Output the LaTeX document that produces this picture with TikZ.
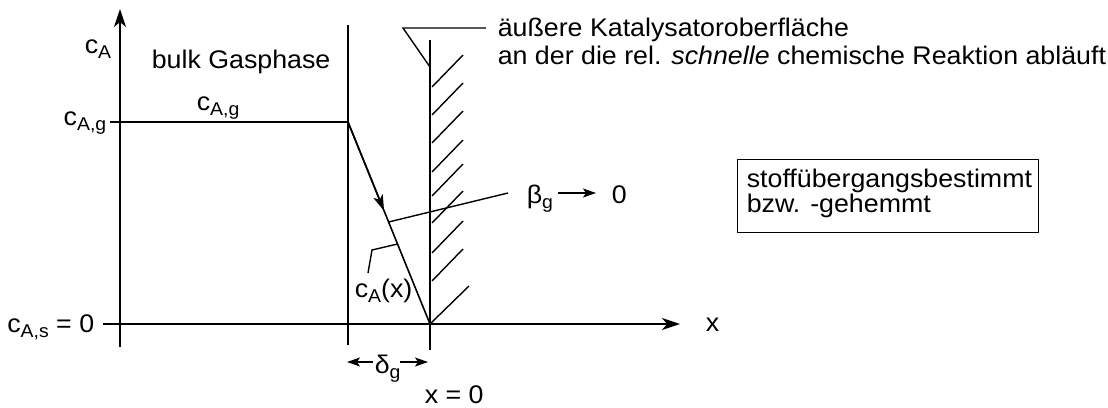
\documentclass[tikz,border=0pt]{standalone}
\usepackage{fontspec}
\setmainfont{Liberation Sans}[FakeStretch=1.05]
\usetikzlibrary{arrows.meta,calc}
\newcommand\sbs[1]{\raisebox{-5pt}{\fontsize{18.5}{18.5}\selectfont #1}}
\begin{document}
\begin{tikzpicture}[x=1pt,y=-1pt,
  line width=1.6pt,
  every node/.style={inner sep=0pt,font=\fontsize{25.5}{28}\selectfont},
  bigarr/.style={-{Stealth[length=18pt,width=12pt,inset=5pt]}},
  midarr/.style={-{Stealth[length=16pt,width=10pt,inset=4pt]}},
  smallarr/.style={-{Stealth[length=13pt,width=9pt,inset=3pt]}},
  hatch/.style={line width=1.4pt},
  leader/.style={line width=1.4pt},
  boxed/.style={draw,line width=1.3pt}]
\useasboundingbox (0,0) rectangle (1108,407);
% key points
\coordinate (O) at (430,324);
\coordinate (yb) at (120,347);
\coordinate (yt) at (120,9);
\coordinate (xl) at (103,324);
\coordinate (xr) at (680,324);
\coordinate (gL) at (110,122);
\coordinate (gR) at (348,122);
\coordinate (d1) at (348,25);
\coordinate (d2) at (348,345);
\coordinate (w1) at (430,40);
\coordinate (w2) at (430,350);
% axes
\draw[bigarr] (yb) -- (yt);
\draw[bigarr] (xl) -- (xr);
% bulk level and film boundary
\draw (gL) -- (gR);
\draw (d1) -- (d2);
% catalyst wall
\draw (w1) -- (w2);
\foreach \y in {87,115,143,172,196,223,253,281}
  \draw[hatch] (432,\y) -- ++(31,-32);
\draw[hatch] (O) -- ++(39,-38);
% concentration profile
\draw (gR) -- (O);
\draw[midarr] (gR) -- ($(gR)!0.44!(O)$);
% labels
\node[anchor=base west] (cA) at (84,53) {c\sbs{A}};
\node[anchor=base west] (bulk) at (151,68) {bulk Gasphase};
\node[anchor=base east] (cAgl) at (107,125) {c\sbs{A,g}};
\node[anchor=base west] (cAgt) at (196,110) {c\sbs{A,g}};
\node[anchor=base east] (cAs) at (95,332) {c\sbs{A,s} = 0};
\node[anchor=base west] (xlab) at (705,331) {x};
\node[anchor=base west] (x0) at (424,403) {x = 0};
% surface label
\node[anchor=base west] (surf1) at (497,36) {äußere Katalysatoroberfläche};
\node[anchor=base west] (surf2) at (497,64) {an der die rel. \textit{schnelle} chemische Reaktion abläuft};
\coordinate (s1) at (486,28);
\coordinate (s2) at (403,28);
\coordinate (s3) at (430,67);
\draw[leader] (s1) -- (s2) -- (s3);
% beta
\coordinate (bstart) at ($(gR)!0.495!(O)$);
\coordinate (bend) at (508,193);
\draw[leader] (bstart) -- (bend);
\node[anchor=base west] (beta) at (526,203) {β\sbs{g}};
\node[anchor=base west] (zero) at (611,203) {0};
\coordinate (ba1) at (558,193);
\coordinate (ba2) at (596,193);
\draw[smallarr] (ba1) -- (ba2);
% c_A(x)
\coordinate (cx1) at ($(gR)!0.604!(O)$);
\coordinate (cx2) at (372,250);
\coordinate (cx3) at (368,273);
\draw[leader] (cx1) -- (cx2) -- (cx3);
\node[anchor=base west] (cAx) at (354,297) {c\sbs{A}(x)};
% delta
\node[anchor=base west] (delta) at (374,373) {δ\sbs{g}};
\coordinate (dl1) at (373,362);
\coordinate (dl2) at (347,362);
\coordinate (dr1) at (400,362);
\coordinate (dr2) at (428,362);
\draw[smallarr,line width=1.4pt] (dl1) -- (dl2);
\draw[smallarr,line width=1.4pt] (dr1) -- (dr2);
% box
\node[boxed,minimum width=301pt,minimum height=73pt,anchor=north west] (box) at (737,159) {};
\node[anchor=base west] (bt1) at (746,187) {stoffübergangsbestimmt};
\node[anchor=base west] (bt2) at (746,212) {bzw. -gehemmt};
\end{tikzpicture}
\end{document}
